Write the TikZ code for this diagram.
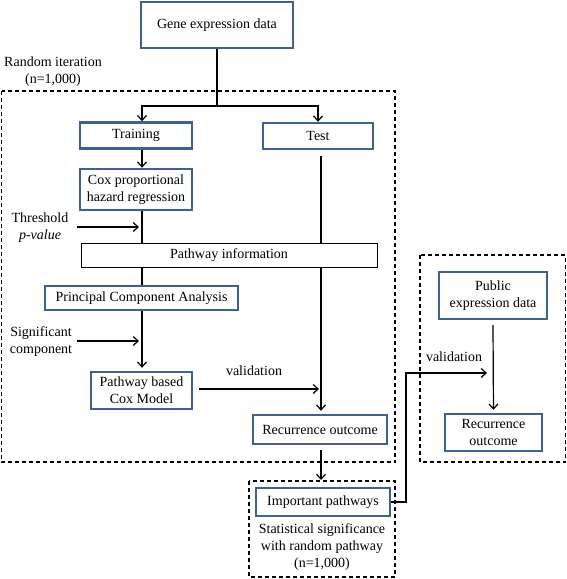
\documentclass[tikz,border=0pt]{standalone}
\usepackage{fontspec}
\setmainfont{Liberation Serif}
\usetikzlibrary{arrows.meta,calc}
\definecolor{boxblue}{RGB}{62,96,146}
\begin{document}
\begin{tikzpicture}[x=1pt,y=-1pt,font=\fontsize{14}{17}\selectfont,
  bbox/.style={draw=boxblue,line width=2.4pt,rectangle,inner sep=0pt,align=center,fill=white},
  pbox/.style={draw=black,line width=0.9pt,rectangle,inner sep=0pt,fill=white},
  arr/.style={line width=1.2pt,-{Straight Barb[length=5pt,width=9pt,line width=1.2pt]}},
  ln/.style={line width=1.2pt},
  dbox/.style={draw,line width=1.3pt,dash pattern=on 4pt off 3pt},
  lbl/.style={align=center,inner sep=0pt}]
\useasboundingbox (0,0) rectangle (567,579);
% dashed frames
\draw[dbox] (1.5,91) rectangle (395,462);
\draw[dbox] (249,481) rectangle (395,577);
\draw[dbox] (420,255) rectangle (565.5,462);
% boxes
\node[bbox,minimum width=152,minimum height=46] (gene) at (217,25) {Gene expression data};
\node[bbox,minimum width=112,minimum height=26] (train) at (136,135.5) {Training};
\node[bbox,minimum width=110,minimum height=26] (test) at (318,136) {Test};
\node[bbox,minimum width=112,minimum height=41] (cox) at (136,189.5) {Cox proportional\\hazard regression};
\node[bbox,minimum width=193,minimum height=24] (pca) at (141.5,298) {Principal Component Analysis};
\node[bbox,minimum width=101,minimum height=37] (pbcox) at (141.5,390.5) {Pathway based\\Cox Model};
\node[bbox,minimum width=134,minimum height=29] (recur) at (320,429.5) {Recurrence outcome};
\node[bbox,minimum width=134,minimum height=28] (imp) at (323,502) {Important pathways};
\node[bbox,minimum width=108,minimum height=47] (pub) at (493,295.5) {Public\\expression data};
\node[bbox,minimum width=97,minimum height=37] (recur2) at (493.5,432.5) {Recurrence\\outcome};
% labels
\node[lbl] (rnd) at (53,72) {Random iteration\\(n=1,000)};
\node[lbl] (thr) at (40,228) {Threshold\\\textit{p-value}};
\node[lbl] (sig) at (41,341.5) {Significant\\component};
\node[lbl] (val1) at (254,371) {validation};
\node[lbl] (val2) at (454,357) {validation};
\node[lbl] (stat) at (322,547.5) {Statistical significance\\with random pathway\\(n=1,000)};
% coordinates
\coordinate (col) at (142,0);
\coordinate (tcol) at (321,0);
\coordinate (split) at (217,106);
\coordinate (thrA) at (77,227);
\coordinate (thrB) at (139,227);
\coordinate (sigA) at (77,341);
\coordinate (sigB) at (139,341);
\coordinate (valA) at (199,389);
\coordinate (valB) at (319,389);
\coordinate (impA) at (321,450);
\coordinate (impB) at (321,480);
\coordinate (bend) at (406,373);
\coordinate (pubIn) at (487,373);
% connectors
\draw[ln] (gene.south) -- (split);
\draw[arr] (split) -| (train.north -| col);
\draw[arr] (split) -| (test.north);
\draw[arr] (train.south -| col) -- (cox.north -| col);
\draw[arr,shorten >=3pt] ($(test.south -| tcol)+(0,6)$) -- (recur.north -| tcol);
\node[pbox,minimum width=296,minimum height=24] (pinfo) at (229,255) {Pathway information};
\draw[ln] (cox.south -| col) -- (pinfo.north -| col);
\draw[ln] (pinfo.south -| col) -- (pca.north -| col);
\draw[arr,shorten >=3pt] (pca.south -| col) -- (pbcox.north -| col);
\draw[arr] (thrA) -- (thrB);
\draw[arr] (sigA) -- (sigB);
\draw[arr] (valA) -- (valB);
\draw[arr] (impA) -- (impB);
\draw[arr] (imp.east) -| (bend) -- (pubIn);
\draw[arr,shorten >=3pt] ($(pub.south)+(0,5)$) -- (recur2.north);
\end{tikzpicture}
\end{document}
